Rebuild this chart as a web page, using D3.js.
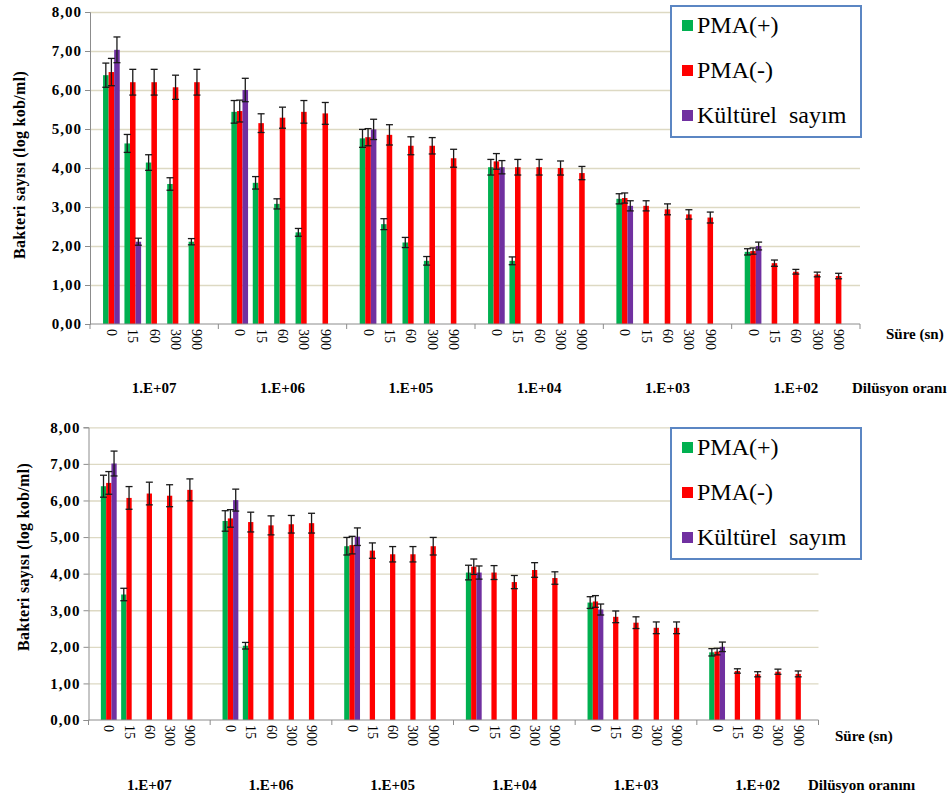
<html>
<style>
  body { margin: 0; background: #ffffff; }
</style>
<script src="https://cdnjs.cloudflare.com/ajax/libs/d3/7.8.5/d3.min.js"></script>
<body>
<div id="chart"></div>
</body>
<script>
// categories
const groups = ["1.E+07", "1.E+06", "1.E+05", "1.E+04", "1.E+03", "1.E+02"]
const times = ["0", "15", "60", "300", "900"]
const seriesNames = ["PMA(+)", "PMA(-)", "Kültürel  sayım"]
const seriesColors = ["#00b050", "#ff0000", "#7030a0"]
const yTicks = [0, 1, 2, 3, 4, 5, 6, 7, 8]

// top chart, 5 time points per dilution, null = no bar
const topPmaPlus = [6.38, 4.63, 4.14, 3.59, 2.11,  5.44, 3.62, 3.08, 2.35, null,  4.76, 2.56, 2.09, 1.62, null,
                    4.02, 1.62, null, null, null,  3.21, null, null, null, null,  1.85, null, null, null, null]
const topPmaPlusErr = [0.31, 0.23, 0.2, 0.16, 0.08,  0.29, 0.16, 0.13, 0.1, null,  0.23, 0.14, 0.13, 0.11, null,
                       0.2, 0.1, null, null, null,  0.13, null, null, null, null,  0.08, null, null, null, null]
const topPmaMinus = [6.46, 6.2, 6.2, 6.07, 6.2,  5.46, 5.15, 5.29, 5.44, 5.4,  4.79, 4.85, 4.57, 4.57, 4.25,
                     4.17, 4.02, 4.02, 4.0, 3.87,  3.23, 3.03, 2.94, 2.81, 2.73,  1.87, 1.56, 1.34, 1.27, 1.23]
const topPmaMinusErr = [0.35, 0.33, 0.33, 0.31, 0.33,  0.28, 0.24, 0.27, 0.29, 0.28,  0.22, 0.26, 0.23, 0.21, 0.23,
                        0.2, 0.2, 0.2, 0.18, 0.17,  0.13, 0.13, 0.14, 0.12, 0.14,  0.08, 0.08, 0.06, 0.06, 0.07]
const topCulture = [7.03, 2.11, null, null, null,  6.0, null, null, null, null,  4.99, null, null, null, null,
                    4.02, null, null, null, null,  3.03, null, null, null, null,  2.0, null, null, null, null]
const topCultureErr = [0.33, 0.09, null, null, null,  0.3, null, null, null, null,  0.26, null, null, null, null,
                       0.17, null, null, null, null,  0.13, null, null, null, null,  0.1, null, null, null, null]

// bottom chart
const botPmaPlus = [6.39, 3.43, null, null, null,  5.44, 2.03, null, null, null,  4.75, null, null, null, null,
                    4.03, null, null, null, null,  3.21, null, null, null, null,  1.85, null, null, null, null]
const botPmaPlusErr = [0.3, 0.17, null, null, null,  0.28, 0.09, null, null, null,  0.24, null, null, null, null,
                       0.2, null, null, null, null,  0.16, null, null, null, null,  0.1, null, null, null, null]
const botPmaMinus = [6.48, 6.07, 6.19, 6.13, 6.29,  5.51, 5.41, 5.32, 5.35, 5.38,  4.78, 4.63, 4.53, 4.53, 4.75,
                     4.19, 4.03, 3.77, 4.1, 3.88,  3.24, 2.82, 2.66, 2.52, 2.52,  1.87, 1.34, 1.25, 1.32, 1.26]
const botPmaMinusErr = [0.31, 0.31, 0.31, 0.3, 0.3,  0.24, 0.27, 0.26, 0.24, 0.27,  0.24, 0.21, 0.21, 0.21, 0.24,
                        0.21, 0.19, 0.18, 0.2, 0.17,  0.16, 0.16, 0.16, 0.16, 0.16,  0.09, 0.06, 0.07, 0.07, 0.08]
const botCulture = [7.01, null, null, null, null,  6.01, null, null, null, null,  5.01, null, null, null, null,
                    4.03, null, null, null, null,  3.02, null, null, null, null,  2.0, null, null, null, null]
const botCultureErr = [0.34, null, null, null, null,  0.3, null, null, null, null,  0.24, null, null, null, null,
                       0.18, null, null, null, null,  0.15, null, null, null, null,  0.13, null, null, null, null]

const serif = "'Liberation Serif', 'Times New Roman', serif"

let svg = d3.select("#chart").append("svg")
    .attr("width", 952)
    .attr("height", 799)

function drawChart(cfg) {
  let {x0, x1, y0, y8} = cfg
  let g = svg.append("g")

  let x = d3.scaleBand().domain(groups).range([x0, x1])
  let xt = d3.scaleBand().domain(times).range([0, x.bandwidth()]).paddingOuter(0.5)
  let bw = xt.step() * 0.26
  let xs = d3.scaleBand().domain([0, 1, 2]).range([-1.5 * bw, 1.5 * bw])
  let y = d3.scaleLinear().domain([0, 8]).range([y0, y8])
  let center = (gr, t) => x(gr) + xt(t) + xt.bandwidth() / 2

  // gridlines
  let grid = g.append("g")
      .attr("transform", `translate(${x0},0)`)
      .call(d3.axisLeft(y).tickValues(yTicks.slice(1)).tickSize(-(x1 - x0)).tickFormat(""))
  grid.select(".domain").remove()
  grid.selectAll("line").attr("stroke", "#ddd9c3").attr("stroke-width", 1.3)

  // bars
  let rows = []
  cfg.values.forEach((vals, i) => {
    vals.forEach((v, k) => {
      if (v == null) return
      rows.push({s: i, g: groups[Math.floor(k / 5)], t: times[k % 5], v: v, e: cfg.errs[i][k]})
    })
  })
  g.selectAll("rect.bar").data(rows).enter()
      .append("rect")
      .attr("class", "bar")
      .attr("x", d => center(d.g, d.t) + xs(d.s))
      .attr("y", d => y(d.v))
      .attr("width", bw)
      .attr("height", d => y0 - y(d.v))
      .attr("fill", d => seriesColors[d.s])

  // error bars
  let eb = g.selectAll("g.err").data(rows).enter()
      .append("g")
      .attr("class", "err")
      .attr("stroke", "#1a1a1a")
      .attr("stroke-width", 1.3)
  let ex = d => center(d.g, d.t) + xs(d.s) + bw / 2
  eb.append("line")
      .attr("x1", ex).attr("x2", ex)
      .attr("y1", d => y(d.v - d.e)).attr("y2", d => y(d.v + d.e))
  eb.append("line")
      .attr("x1", d => ex(d) - 3.5).attr("x2", d => ex(d) + 3.5)
      .attr("y1", d => y(d.v + d.e)).attr("y2", d => y(d.v + d.e))
  eb.append("line")
      .attr("x1", d => ex(d) - 3.5).attr("x2", d => ex(d) + 3.5)
      .attr("y1", d => y(d.v - d.e)).attr("y2", d => y(d.v - d.e))

  // y axis
  let ya = g.append("g")
      .attr("transform", `translate(${x0},0)`)
      .call(d3.axisLeft(y).tickValues(yTicks).tickSize(5).tickPadding(3)
        .tickFormat(d => d3.format(".2f")(d).replace(".", ",")))
  ya.select(".domain").attr("stroke", "#8c8c8c")
  ya.selectAll("line").attr("stroke", "#8c8c8c")
  ya.selectAll("text")
      .style("font-size", "15px")
      .style("font-weight", "bold")
      .style("letter-spacing", "1px")

  // x axis with group separators
  g.append("line")
      .attr("x1", x0).attr("x2", x1).attr("y1", y0).attr("y2", y0)
      .attr("stroke", "#8c8c8c")
  g.selectAll("line.sep").data(groups.map(d => x(d)).concat([x1])).enter()
      .append("line")
      .attr("class", "sep")
      .attr("x1", d => d).attr("x2", d => d)
      .attr("y1", y0).attr("y2", y0 + 5)
      .attr("stroke", "#8c8c8c")

  // time labels
  let tl = []
  groups.forEach(gr => times.forEach(t => tl.push({g: gr, t: t})))
  g.selectAll("text.time").data(tl).enter()
      .append("text")
      .attr("class", "time")
      .attr("transform", d => `translate(${center(d.g, d.t)},${y0 + 5}) rotate(90)`)
      .attr("dominant-baseline", "central")
      .style("font-size", "14px")
      .text(d => d.t)

  // group labels
  g.selectAll("text.grp").data(groups).enter()
      .append("text")
      .attr("class", "grp")
      .attr("x", d => x(d) + x.bandwidth() / 2)
      .attr("y", cfg.groupY)
      .attr("text-anchor", "middle")
      .style("font-size", "15px")
      .style("font-weight", "bold")
      .text(d => d)

  g.append("text")
      .attr("x", cfg.sureX).attr("y", cfg.sureY)
      .style("font-size", "15px").style("font-weight", "bold")
      .text("Süre (sn)")
  g.append("text")
      .attr("x", cfg.dilX).attr("y", cfg.groupY)
      .style("font-size", "15px").style("font-weight", "bold")
      .text(cfg.dilText)

  // y title
  g.append("text")
      .attr("transform", `translate(${cfg.titleX},${cfg.titleY}) rotate(-90)`)
      .attr("text-anchor", "middle")
      .attr("dominant-baseline", "central")
      .style("font-size", "16px")
      .style("font-weight", "bold")
      .style("letter-spacing", "0.3px")
      .text("Bakteri sayısı (log kob/ml)")

  // legend
  let lg = g.append("g").attr("transform", `translate(671,${cfg.legendTop})`)
  lg.append("rect")
      .attr("width", 190).attr("height", 131)
      .attr("fill", "#ffffff")
      .attr("stroke", "#5b86c3")
      .attr("stroke-width", 2)
  let items = lg.selectAll("g.item").data(seriesNames).enter()
      .append("g")
      .attr("class", "item")
      .attr("transform", (d, i) => `translate(0,${27 + i * 45})`)
  items.append("rect")
      .attr("x", 11).attr("y", -13)
      .attr("width", 11).attr("height", 11)
      .attr("fill", (d, i) => seriesColors[i])
  items.append("text")
      .attr("x", 26).attr("y", 0)
      .style("font-size", "24px")
      .style("white-space", "pre")
      .text(d => d)
}

drawChart({
  x0: 90, x1: 860, y0: 324, y8: 12,
  values: [topPmaPlus, topPmaMinus, topCulture],
  errs: [topPmaPlusErr, topPmaMinusErr, topCultureErr],
  groupY: 393, sureX: 886, sureY: 339,
  dilX: 852, dilText: "Dilüsyon oranı",
  titleX: 19, titleY: 165, legendTop: 6
})

drawChart({
  x0: 88.5, x1: 818.5, y0: 720, y8: 427.3,
  values: [botPmaPlus, botPmaMinus, botCulture],
  errs: [botPmaPlusErr, botPmaMinusErr, botCultureErr],
  groupY: 790, sureX: 835, sureY: 741,
  dilX: 808, dilText: "Dilüsyon oranını",
  titleX: 23, titleY: 557, legendTop: 428
})

// every text in the serif face, after the axes have set their own font
svg.selectAll("text").style("font-family", serif).attr("fill", "#000")
</script>
</html>
